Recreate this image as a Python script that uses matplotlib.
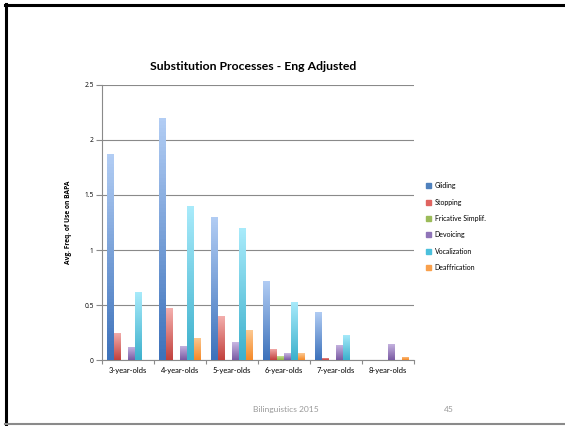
import numpy as np
import matplotlib
matplotlib.use("Agg")
from matplotlib import pyplot as plt
from matplotlib.colors import LinearSegmentedColormap
from matplotlib.lines import Line2D
from matplotlib.patches import Rectangle

plt.rcParams["font.family"] = ["Lato", "DejaVu Sans"]

# Average frequency of use per age group
age_groups = ["3-year-olds", "4-year-olds", "5-year-olds", "6-year-olds", "7-year-olds", "8-year-olds"]
gliding = [1.87, 2.20, 1.30, 0.72, 0.44, 0.0]
stopping = [0.25, 0.47, 0.40, 0.10, 0.02, 0.0]
fricative = [0.0, 0.0, 0.0, 0.04, 0.0, 0.0]
devoicing = [0.12, 0.13, 0.16, 0.06, 0.14, 0.15]
vocalization = [0.62, 1.40, 1.20, 0.53, 0.23, 0.0]
deaffrication = [0.0, 0.20, 0.27, 0.06, 0.0, 0.03]
y_ticks = [0, 0.5, 1, 1.5, 2, 2.5]

series = [
    ("Gliding", gliding, "#b2cdf4", "#3d72bb", "#4f81bd"),
    ("Stopping", stopping, "#f4b0ae", "#c2413d", "#e06460"),
    ("Fricative Simplif.", fricative, "#d4ecaa", "#8fb446", "#9bbb59"),
    ("Devoicing", devoicing, "#c8b6e2", "#7a5ba3", "#8f74b8"),
    ("Vocalization", vocalization, "#a9ebfb", "#3cb0cc", "#4bc0dc"),
    ("Deaffrication", deaffrication, "#fcc892", "#f58a28", "#f9a04c"),
]

fig = plt.figure(figsize=(5.65, 4.26), dpi=100)
ax = fig.add_axes([0.1805, 0.1549, 0.552, 0.6456])

# slide frame
fig.add_artist(Line2D([0.0106, 0.0106], [0.0047, 0.99], color="black", lw=2.2, transform=fig.transFigure))
fig.add_artist(Line2D([0.0088, 1.0], [0.988, 0.988], color="black", lw=2.2, transform=fig.transFigure))
fig.add_artist(Line2D([0.0088, 1.0], [0.0047, 0.0047], color="#8a8a8a", lw=1.5, transform=fig.transFigure))

x = np.arange(len(age_groups)) + 0.5
width = 0.8 / len(series)
grad = np.linspace(0, 1, 64).reshape(-1, 1)

handles = []
for k, (name, vals, light, dark, mid) in enumerate(series):
    pos = x - 0.4 + width * (k + 0.5)
    bars = ax.bar(pos, vals, width=width * 0.96, color="none", edgecolor="none", zorder=3)
    cmap = LinearSegmentedColormap.from_list(name, [dark, light])
    for b in bars:
        h = b.get_height()
        if h <= 0:
            continue
        x0 = b.get_x()
        im = ax.imshow(grad, cmap=cmap, origin="lower", aspect="auto",
                       extent=[x0, x0 + b.get_width(), 0, h], zorder=3)
        im.set_clip_path(b)
    handles.append(Rectangle((0, 0), 1, 1, color=mid))

ax.set_xlim(0, 6)
ax.set_ylim(0, 2.5)
ax.set_yticks(y_ticks)
ax.set_yticklabels([f"{t:g}" for t in y_ticks], fontsize=4.8, family="Open Sans")
ax.set_xticks(range(7))
ax.set_xticklabels([])
ax.set_xticks(x, minor=True)
ax.set_xticklabels(age_groups, minor=True, fontsize=5.5)
ax.tick_params(axis="x", which="minor", length=0, pad=5)
ax.tick_params(axis="x", which="major", length=3, color="#8a8a8a", width=0.8)
ax.tick_params(axis="y", length=4, color="#8a8a8a", width=0.8, pad=2)
ax.grid(axis="y", color="#8a8a8a", lw=0.8, zorder=0)
ax.set_axisbelow(True)
for s in ["top", "right"]:
    ax.spines[s].set_visible(False)
for s in ["left", "bottom"]:
    ax.spines[s].set_color("#8a8a8a")
    ax.spines[s].set_linewidth(0.8)

ax.set_ylabel("Avg. Freq. of Use on BAPA", fontsize=4.8, fontweight="bold", labelpad=9,
              family="Open Sans")
fig.text(0.448, 0.845, "Substitution Processes - Eng Adjusted", ha="center", va="center",
         fontsize=8.8, fontweight="bold")

ax.legend(handles, [s[0] for s in series], loc="center left", bbox_to_anchor=(1.02, 0.485),
          frameon=False, fontsize=5, handlelength=0.7, handleheight=0.7, handletextpad=0.5,
          labelspacing=1.35)

fig.text(0.506, 0.038, "Bilinguistics 2015", ha="center", va="center", fontsize=6.1, color="#9a9a9a")
fig.text(0.795, 0.038, "45", ha="center", va="center", fontsize=6.1, color="#9a9a9a")

fig.savefig("out.png", dpi=100)
